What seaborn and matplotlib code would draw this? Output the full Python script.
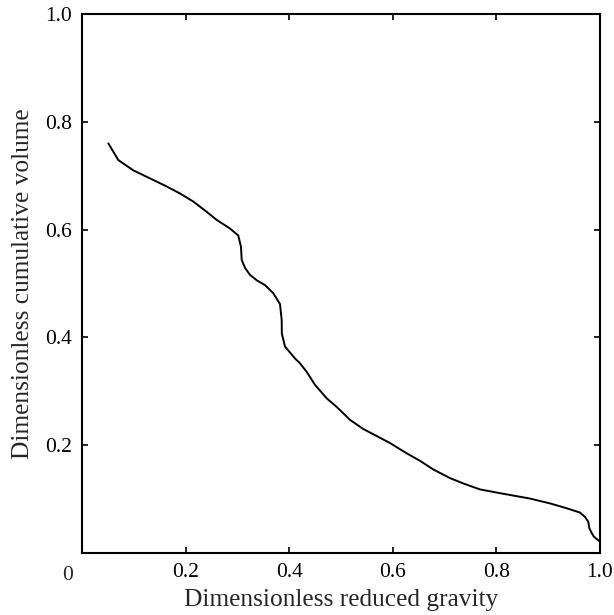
import matplotlib
matplotlib.use("Agg")
import matplotlib.pyplot as plt
import seaborn as sns
import pandas as pd

# Cumulative volume versus reduced gravity (both dimensionless)
reduced_gravity = [
    0.0508, 0.0701, 0.0990, 0.1313, 0.1635, 0.1892, 0.2149, 0.2407, 0.2600,
    0.2857, 0.3017, 0.3069, 0.3083, 0.3147, 0.3243, 0.3373, 0.3533, 0.3693,
    0.3822, 0.3855, 0.3858, 0.3919, 0.4112, 0.4208, 0.4338, 0.4498, 0.4724,
    0.4917, 0.5174, 0.5431, 0.5689, 0.5946, 0.6268, 0.6525, 0.6782, 0.7104,
    0.7361, 0.7683, 0.8069, 0.8649, 0.9035, 0.9357, 0.9614, 0.9710, 0.9774,
    0.9794, 0.9840, 0.9884, 0.9936, 1.0000,
]
cumulative_volume = [
    0.760, 0.729, 0.710, 0.695, 0.680, 0.667, 0.652, 0.633, 0.618,
    0.602, 0.589, 0.568, 0.544, 0.529, 0.516, 0.506, 0.497, 0.482,
    0.462, 0.432, 0.407, 0.383, 0.361, 0.352, 0.336, 0.312, 0.287,
    0.271, 0.247, 0.230, 0.217, 0.204, 0.185, 0.171, 0.155, 0.139,
    0.129, 0.118, 0.111, 0.101, 0.092, 0.083, 0.075, 0.067, 0.058,
    0.046, 0.037, 0.030, 0.026, 0.021,
]
xtick_values = [0.0, 0.2, 0.4, 0.6, 0.8, 1.0]
xtick_labels = ["", "0.2", "0.4", "0.6", "0.8", "1.0"]
ytick_values = [0.0, 0.2, 0.4, 0.6, 0.8, 1.0]
ytick_labels = ["", "0.2", "0.4", "0.6", "0.8", "1.0"]

sns.set_style("ticks")
plt.rcParams["font.family"] = ["Liberation Serif", "DejaVu Serif"]

df = pd.DataFrame({"g": reduced_gravity, "v": cumulative_volume})

fig = plt.figure(figsize=(6.14, 6.15), dpi=100)
ax = fig.add_axes([82 / 614, 1 - 553 / 615, 518 / 614, 539 / 615])

sns.lineplot(data=df, x="g", y="v", sort=False, estimator=None,
             color="black", linewidth=1.4, ax=ax)

ax.set_xlim(0, 1)
ax.set_ylim(0, 1)
ax.set_xticks(xtick_values)
ax.set_xticklabels(xtick_labels)
ax.set_yticks(ytick_values)
ax.set_yticklabels(ytick_labels)
ax.tick_params(direction="in", length=4, width=1.2, top=True, right=True,
               labelsize=15.5, pad=7, colors="black")
for s in ax.spines.values():
    s.set_linewidth(1.5)
    s.set_color("black")

ax.text(-0.027, -0.025, "0", transform=ax.transAxes, ha="center", va="top",
        fontsize=15.5)

ax.set_xlabel("Dimensionless reduced gravity", fontsize=18.3, labelpad=5)
ax.set_ylabel("Dimensionless cumulative volume", fontsize=18.3, labelpad=8)

fig.savefig("out.png", dpi=100)
